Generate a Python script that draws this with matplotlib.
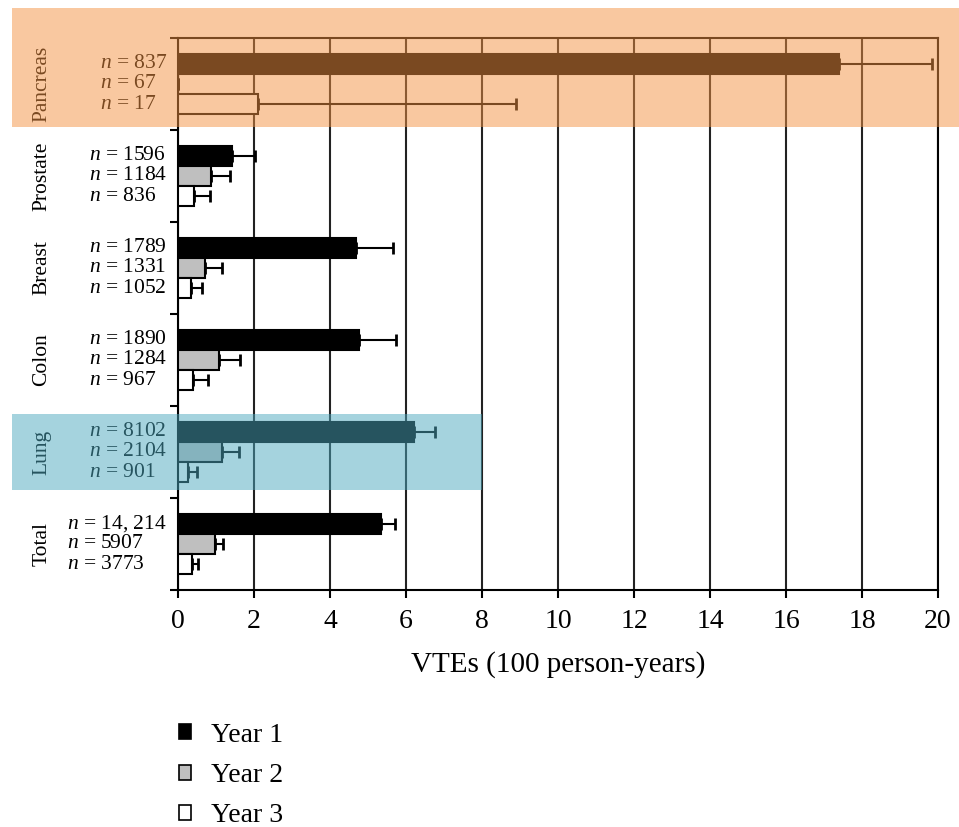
import matplotlib.pyplot as plt
from matplotlib.patches import Rectangle, Patch
from matplotlib.transforms import blended_transform_factory

plt.rcParams['font.family'] = ['Liberation Serif', 'DejaVu Serif']
plt.rcParams['mathtext.fontset'] = 'custom'
plt.rcParams['mathtext.it'] = 'Liberation Serif:italic'
plt.rcParams['mathtext.rm'] = 'Liberation Serif'

# data, top to bottom
cancers = ['Pancreas', 'Prostate', 'Breast', 'Colon', 'Lung', 'Total']
year1 = [17.4, 1.43, 4.68, 4.76, 6.22, 5.34]
year1_err = [2.45, 0.60, 0.97, 0.98, 0.54, 0.38]
year2 = [0.0, 0.86, 0.71, 1.07, 1.15, 0.97]
year2_err = [0.0, 0.52, 0.46, 0.56, 0.45, 0.22]
year3 = [2.1, 0.42, 0.33, 0.40, 0.25, 0.38]
year3_err = [6.8, 0.41, 0.29, 0.39, 0.26, 0.15]
n_year1 = ['837', '1596', '1789', '1890', '8102', '14, 214']
n_year2 = ['67', '1184', '1331', '1284', '2104', '5907']
n_year3 = ['17', '836', '1052', '967', '901', '3773']
years = ['Year 1', 'Year 2', 'Year 3']
colors = ['black', '#bfbfbf', 'white']

fig = plt.figure(figsize=(9.59, 8.27), dpi=100)
ax = fig.add_axes([178 / 959, 1 - 590 / 827, 760 / 959, 552 / 827])

offs = [-0.22, 0.0, 0.22]
h = 0.22
ys = list(range(len(cancers)))
series = [(year1, year1_err), (year2, year2_err), (year3, year3_err)]
for k, (vals, errs) in enumerate(series):
    pos = [y + offs[k] for y in ys]
    ax.barh(pos, vals, height=h, color=colors[k], edgecolor='black',
            linewidth=1.5, zorder=3)
    ax.errorbar(vals, pos, xerr=[[0] * len(vals), errs], fmt='none',
                ecolor='black', elinewidth=1.5, capsize=4, capthick=2,
                zorder=4)

ax.set_xlim(0, 20)
ax.set_ylim(len(cancers) - 0.5, -0.5)
ax.set_xticks(range(0, 21, 2))
ax.set_yticks([i - 0.5 for i in range(len(cancers) + 1)])
ax.set_yticklabels([])
ax.tick_params(axis='both', direction='out', length=6, width=1.5,
               labelsize=20)
ax.tick_params(axis='x', pad=8)
ax.xaxis.grid(True, color='#222222', linewidth=1.5, zorder=0)
ax.set_axisbelow(True)
for s in ax.spines.values():
    s.set_linewidth(1.5)
ax.set_xlabel('VTEs (100 person-years)', fontsize=21, labelpad=12)

# n labels, left aligned within group, widest ending next to the axis
trans = blended_transform_factory(ax.transAxes, ax.transData)
fig.canvas.draw()
r = fig.canvas.get_renderer()
for i in ys:
    labels = [n_year1[i], n_year2[i], n_year3[i]]
    txts = []
    for k, lab in enumerate(labels):
        t = ax.text(0, i + offs[k], r'$n$ = ' + lab, transform=trans,
                    ha='left', va='center', fontsize=15.5)
        txts.append(t)
    widths = [t.get_window_extent(r).width for t in txts]
    x0 = -(11 + max(widths)) / 760
    for t in txts:
        t.set_x(x0)
    ax.text((42 - 178) / 760, i, cancers[i], transform=trans, rotation=90,
            ha='center', va='center', fontsize=15.5)

# highlight boxes
fig.add_artist(Rectangle((12 / 959, 1 - 127 / 827), 947 / 959, 119 / 827,
                         transform=fig.transFigure, facecolor='#f49343',
                         alpha=0.5, edgecolor='none', zorder=10))
fig.add_artist(Rectangle((12 / 959, 1 - 490 / 827), 470 / 959, 76 / 827,
                         transform=fig.transFigure, facecolor='#4ca8be',
                         alpha=0.5, edgecolor='none', zorder=10))

handles = [Patch(facecolor=c, edgecolor='black', linewidth=1.2) for c in colors]
fig.legend(handles, years, loc='upper left',
           bbox_to_anchor=(162 / 959, 1 - 706 / 827), frameon=False,
           fontsize=20, handlelength=0.45, handleheight=0.45,
           labelspacing=0.55, handletextpad=0.7, borderpad=0.1)

fig.savefig('out.png', dpi=100)
